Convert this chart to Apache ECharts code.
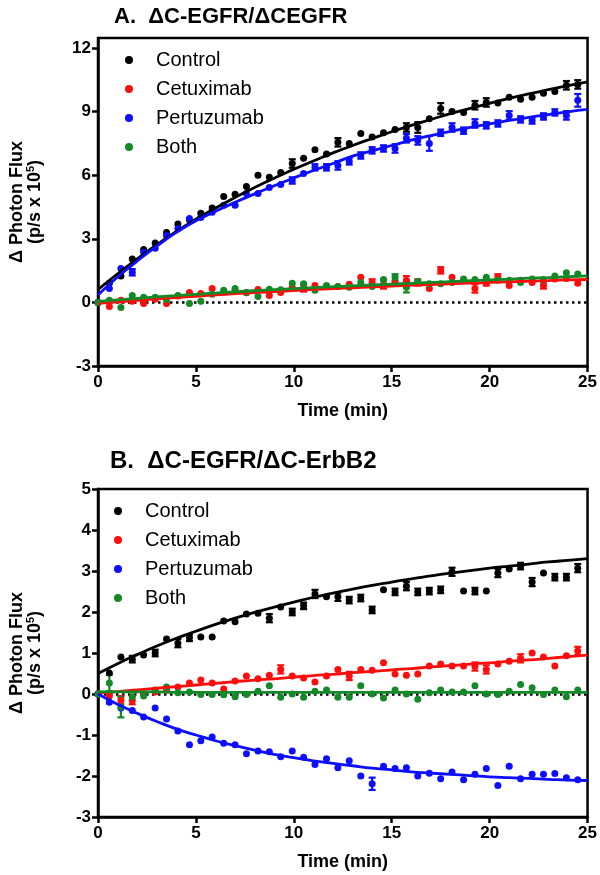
<!DOCTYPE html>
<html>
<head>
<meta charset="utf-8">
<script src="https://cdn.jsdelivr.net/npm/echarts@6/dist/echarts.min.js"></script>
<style>html,body{margin:0;padding:0;background:#fff}#c{width:600px;height:875px}</style>
</head>
<body>
<div id="c"></div>
<script>
// ---------- DATA ----------
const seriesNames = ['Control', 'Cetuximab', 'Pertuzumab', 'Both'];
const seriesColors = ['#000000', '#ff0d0d', '#0d0dff', '#138a27'];

const timeMin = [0, 0.58, 1.17, 1.75, 2.33, 2.92, 3.5, 4.08, 4.67, 5.25, 5.83, 6.42, 7, 7.58, 8.17, 8.75, 9.33, 9.92, 10.5, 11.08, 11.67, 12.25, 12.83, 13.42, 14, 14.58, 15.17, 15.75, 16.33, 16.92, 17.5, 18.08, 18.67, 19.25, 19.83, 20.42, 21, 21.58, 22.17, 22.75, 23.33, 23.92, 24.5];
const fitTime = [0,1,2,3,4,5,6,7,8,9,10,11,12,13,14,15,16,17,18,19,20,21,22,23,24,25];

const xTicks = [0, 5, 10, 15, 20, 25];
const yTicksA = [-3, 0, 3, 6, 9, 12];
const yTicksB = [-3, -2, -1, 0, 1, 2, 3, 4, 5];

// Panel A
const aControl = [0, 0.9, 1.25, 2.05, 2.5, 2.8, 3.3, 3.7, 3.9, 4.2, 4.45, 5.0, 5.1, 5.47, 6.0, 5.9, 6.13, 6.55, 6.8, 7.2, 7.0, 7.55, 7.5, 7.97, 7.8, 8.0, 8.15, 8.25, 8.25, 8.66, 9.15, 9.0, 8.96, 9.3, 9.43, 9.4, 9.67, 9.58, 9.67, 9.86, 9.95, 10.24, 10.28];
const aCetuximab = [0, -0.19, 0.1, 0.05, -0.05, 0.15, -0.05, 0.3, 0.47, 0.42, 0.66, 0.5, 0.55, 0.45, 0.61, 0.33, 0.47, 0.7, 0.66, 0.8, 0.75, 0.75, 0.85, 1.18, 0.94, 0.85, 0.95, 1.04, 0.94, 0.66, 1.51, 1.18, 1.05, 0.66, 0.9, 1.18, 0.8, 1.04, 0.94, 0.8, 1.1, 1.13, 0.9];
const aPertuzumab = [0, 0.66, 1.6, 1.42, 2.36, 2.55, 3.16, 3.49, 3.96, 4.0, 4.25, 4.58, 4.58, 5.14, 5.14, 5.42, 5.56, 5.75, 6.08, 6.37, 6.37, 6.46, 6.65, 6.93, 7.17, 7.26, 7.26, 7.74, 7.64, 7.5, 8.0, 8.25, 8.1, 8.44, 8.35, 8.44, 8.82, 8.63, 8.58, 8.77, 8.96, 8.82, 9.53];
const aBoth = [0, 0.1, -0.24, 0.33, 0.24, 0.24, 0.14, 0.33, -0.05, 0.05, 0.38, 0.57, 0.66, 0.47, 0.28, 0.62, 0.6, 0.9, 0.88, 0.57, 0.8, 0.75, 0.72, 0.94, 0.75, 1.08, 1.18, 0.72, 1.0, 0.88, 0.88, 0.94, 1.1, 1.08, 1.18, 1.04, 1.04, 0.94, 1.1, 1.08, 1.24, 1.4, 1.34];

const aControlErr = [0,0,0,0,0,0,0,0,0,0, 0,0,0,0,0,0,0,0.2,0,0, 0,0.2,0,0,0,0,0,0.2,0.25,0, 0.25,0,0,0.2,0.2,0,0,0,0,0, 0,0.2,0.2];
const aCetuximabErr = [0,0,0,0,0,0,0,0,0,0, 0,0,0,0,0,0,0,0,0.15,0, 0,0,0,0,0.15,0.2,0,0.2,0.15,0, 0.15,0,0,0.2,0.1,0.15,0,0,0,0.15, 0,0,0];
const aPertuzumabErr = [0,0,0,0.15,0,0,0,0,0,0, 0,0,0,0,0,0,0,0.15,0,0.15, 0.15,0.2,0.15,0.15,0.15,0.15,0.2,0.2,0.2,0.35, 0.15,0.2,0.15,0.2,0.15,0.15,0.2,0.15,0.15,0.15, 0.15,0.2,0.3];
const aBothErr = [0,0,0,0,0,0,0,0,0,0, 0,0,0,0,0,0,0,0,0,0, 0,0,0,0,0,0,0.15,0.25,0,0, 0,0,0,0,0,0,0,0,0,0, 0,0,0];

const aControlFit = [0.6, 1.35, 2.05, 2.72, 3.35, 3.92, 4.45, 4.95, 5.42, 5.86, 6.28, 6.67, 7.05, 7.4, 7.73, 8.05, 8.35, 8.63, 8.9, 9.15, 9.39, 9.62, 9.83, 10.03, 10.22, 10.4];
const aCetuximabFit = [-0.05, 0.03, 0.1, 0.17, 0.23, 0.29, 0.35, 0.41, 0.46, 0.51, 0.56, 0.61, 0.65, 0.69, 0.73, 0.77, 0.81, 0.84, 0.88, 0.91, 0.94, 0.97, 1.0, 1.03, 1.06, 1.08];
const aPertuzumabFit = [0.35, 1.2, 1.95, 2.65, 3.3, 3.85, 4.3, 4.72, 5.12, 5.5, 5.87, 6.22, 6.55, 6.9, 7.15, 7.4, 7.65, 7.87, 8.07, 8.25, 8.42, 8.58, 8.73, 8.86, 8.99, 9.1];
const aBothFit = [0.05, 0.12, 0.19, 0.26, 0.32, 0.38, 0.44, 0.5, 0.55, 0.6, 0.65, 0.7, 0.74, 0.78, 0.82, 0.86, 0.9, 0.94, 0.98, 1.02, 1.06, 1.1, 1.14, 1.17, 1.21, 1.25];

// Panel B
const bControl = [0, 0.51, 0.9, 0.85, 0.95, 1.0, 1.34, 1.24, 1.37, 1.39, 1.39, 1.78, 1.76, 1.95, 1.97, 1.85, 2.12, 2.0, 2.15, 2.44, 2.37, 2.37, 2.29, 2.34, 2.05, 2.54, 2.49, 2.63, 2.49, 2.51, 2.54, 2.98, 2.51, 2.51, 2.51, 2.95, 3.05, 3.12, 2.73, 2.95, 2.85, 2.85, 3.07];
const bCetuximab = [0, -0.05, -0.15, -0.15, 0.0, 0.05, 0.1, 0.17, 0.27, 0.34, 0.27, 0.12, 0.32, 0.44, 0.37, 0.46, 0.6, 0.44, 0.39, 0.29, 0.44, 0.6, 0.44, 0.6, 0.58, 0.76, 0.49, 0.46, 0.49, 0.68, 0.73, 0.68, 0.68, 0.67, 0.6, 0.73, 0.8, 0.87, 1.0, 0.9, 0.68, 0.93, 1.05];
const bPertuzumab = [0, -0.2, -0.34, -0.4, -0.56, -0.34, -0.61, -0.9, -1.24, -1.14, -1.05, -1.2, -1.24, -1.46, -1.39, -1.41, -1.53, -1.39, -1.54, -1.72, -1.58, -1.8, -1.63, -2.0, -2.19, -1.76, -1.82, -1.8, -2.0, -1.93, -2.07, -1.9, -2.09, -1.96, -1.82, -2.23, -1.76, -2.07, -1.96, -1.96, -1.94, -2.04, -2.09];
const bBoth = [0, 0.27, -0.32, -0.07, -0.05, 0.1, 0.17, 0.03, 0.05, -0.01, -0.01, -0.02, -0.07, -0.01, 0.07, 0.2, -0.08, 0.0, -0.08, 0.07, 0.1, -0.08, -0.08, 0.2, 0.0, -0.1, 0.1, 0.0, -0.13, 0.03, 0.1, 0.05, 0.05, 0.2, 0.0, -0.01, 0.07, 0.23, 0.15, -0.01, 0.1, -0.07, 0.1];

const bControlErr = [0,0,0,0.08,0,0.08,0,0.1,0.08,0, 0,0,0,0,0,0.1,0,0.08,0.08,0.1, 0,0.1,0.08,0.08,0.08,0,0.08,0.1,0.08,0.08, 0.08,0.1,0,0.08,0,0.1,0,0.08,0.1,0, 0.08,0.08,0.1];
const bCetuximabErr = [0,0,0.1,0.1,0,0,0,0,0,0, 0,0,0,0,0,0,0.1,0,0,0, 0,0,0.1,0,0,0,0,0,0,0, 0,0,0,0.1,0.1,0,0,0.1,0,0, 0,0,0.1];
const bPertuzumabErr = [0,0,0,0,0,0,0,0,0,0, 0,0,0,0,0,0,0,0,0,0, 0,0,0,0,0.15,0,0,0,0,0, 0,0,0,0,0,0,0,0,0,0, 0,0,0];
const bBothErr = [0,0.2,0.25,0,0,0,0,0,0,0, 0,0,0,0,0,0,0,0,0,0, 0,0,0,0,0,0,0,0,0,0, 0,0,0,0,0,0,0,0,0,0, 0,0,0];

const bControlFit = [0.5, 0.74, 0.96, 1.17, 1.36, 1.53, 1.7, 1.85, 1.99, 2.12, 2.24, 2.36, 2.46, 2.56, 2.65, 2.73, 2.81, 2.88, 2.95, 3.01, 3.07, 3.12, 3.17, 3.22, 3.26, 3.3];
const bCetuximabFit = [0.02, 0.06, 0.1, 0.14, 0.18, 0.22, 0.26, 0.3, 0.34, 0.37, 0.41, 0.45, 0.48, 0.52, 0.55, 0.59, 0.62, 0.66, 0.69, 0.73, 0.76, 0.8, 0.83, 0.87, 0.91, 0.95];
const bPertuzumabFit = [0, -0.25, -0.47, -0.67, -0.85, -1.0, -1.14, -1.26, -1.37, -1.47, -1.55, -1.63, -1.69, -1.75, -1.81, -1.85, -1.9, -1.93, -1.96, -1.99, -2.02, -2.04, -2.06, -2.08, -2.1, -2.11];
const bBothFit = [0.06, 0.05, 0.05, 0.05, 0.04, 0.04, 0.04, 0.04, 0.04, 0.04, 0.04, 0.04, 0.04, 0.04, 0.04, 0.04, 0.04, 0.04, 0.04, 0.04, 0.04, 0.04, 0.04, 0.04, 0.04, 0.04];

// ---------- CHART ----------
const FONT = '"Liberation Sans", Arial, Helvetica, sans-serif';
const chart = echarts.init(document.getElementById('c'), null, {renderer: 'canvas'});

function errRender(color) {
  return function (params, api) {
    const x = api.value(0), y = api.value(1), e = api.value(2);
    const hi = api.coord([x, y + e]);
    const lo = api.coord([x, y - e]);
    const w = 3.5;
    const st = {stroke: color, lineWidth: 2.2};
    return {type: 'group', children: [
      {type: 'line', shape: {x1: hi[0], y1: hi[1], x2: lo[0], y2: lo[1]}, style: st},
      {type: 'line', shape: {x1: hi[0] - w, y1: hi[1], x2: hi[0] + w, y2: hi[1]}, style: st},
      {type: 'line', shape: {x1: lo[0] - w, y1: lo[1], x2: lo[0] + w, y2: lo[1]}, style: st}
    ]};
  };
}

function panelSeries(p, groups) {
  const out = [];
  groups.forEach((g, gi) => {
    const color = seriesColors[gi];
    const name = seriesNames[gi];
    out.push({
      name: name, type: 'scatter', xAxisIndex: p, yAxisIndex: p,
      symbol: 'circle', symbolSize: 7, itemStyle: {color: color, opacity: 1},
      data: timeMin.map((t, i) => [t, g.vals[i]]), z: 3, clip: false
    });
    out.push({
      name: name + ' SEM', type: 'custom', xAxisIndex: p, yAxisIndex: p,
      renderItem: errRender(color), z: 3,
      data: timeMin.map((t, i) => [t, g.vals[i], g.err[i]]).filter(d => d[2] > 0)
    });
    const line = {
      name: name + ' fit', type: 'line', xAxisIndex: p, yAxisIndex: p,
      smooth: true, showSymbol: false, symbol: 'none',
      lineStyle: {color: color, width: 2.8}, z: 4,
      data: fitTime.map((t, i) => [t, g.fit[i]])
    };
    if (gi === 0) {
      line.markLine = {
        silent: true, symbol: 'none', label: {show: false}, z: 1,
        lineStyle: {color: '#000', width: 2.5, type: [2.5, 3.5]},
        data: [{yAxis: 0}]
      };
    }
    out.push(line);
  });
  return out;
}

const axisLineStyle = {color: '#000', width: 2.5};
function xAxisFor(p) {
  return {
    gridIndex: p, type: 'value', min: 0, max: 25, interval: 5,
    axisLine: {show: true, onZero: false, lineStyle: axisLineStyle},
    axisTick: {show: true, length: 6, lineStyle: axisLineStyle, customValues: xTicks},
    axisLabel: {color: '#000', fontWeight: 'bold', fontSize: 17, fontFamily: FONT, margin: 8, customValues: xTicks},
    splitLine: {show: false},
    name: 'Time (min)', nameLocation: 'middle', nameGap: 36,
    nameTextStyle: {color: '#000', fontWeight: 'bold', fontSize: 18, fontFamily: FONT}
  };
}
function yAxisFor(p, min, max, interval, ticks) {
  return {
    gridIndex: p, type: 'value', min: min, max: max, interval: interval,
    axisLine: {show: true, onZero: false, lineStyle: axisLineStyle},
    axisTick: {show: true, length: 6, lineStyle: axisLineStyle, customValues: ticks},
    axisLabel: {color: '#000', fontWeight: 'bold', fontSize: 17, fontFamily: FONT, margin: 7, customValues: ticks, showMaxLabel: true},
    splitLine: {show: false},
    name: '{a|Δ Photon Flux}\n{a|(p/s x 10}{s|5}{a|)}',
    nameLocation: 'middle', nameRotate: 90, nameGap: 54,
    nameTextStyle: {
      color: '#000', fontFamily: FONT,
      rich: {
        a: {fontSize: 18, fontWeight: 'bold', fontFamily: FONT, color: '#000', lineHeight: 18},
        s: {fontSize: 11, fontWeight: 'bold', fontFamily: FONT, color: '#000', lineHeight: 18, padding: [0, 0, 8, 0]}
      }
    }
  };
}

function legendFor(left, top) {
  return {
    left: left, top: top, orient: 'vertical', selectedMode: false, padding: 0,
    data: seriesNames, icon: 'circle', itemWidth: 8, itemHeight: 8, itemGap: 9,
    textStyle: {fontSize: 20, fontFamily: FONT, color: '#000', lineHeight: 20, padding: [0, 0, 0, 18]}
  };
}

const option = {
  animation: false,
  backgroundColor: '#fff',
  title: [
    {text: 'A.  ΔC-EGFR/ΔCEGFR', left: 114, top: 6, padding: 0,
     textStyle: {fontSize: 22, fontWeight: 'bold', fontFamily: FONT, color: '#000'}},
    {text: 'B.  ΔC-EGFR/ΔC-ErbB2', left: 110, top: 449, padding: 0,
     textStyle: {fontSize: 24, fontWeight: 'bold', fontFamily: FONT, color: '#000'}}
  ],
  legend: [legendFor(125, 50), legendFor(114, 501)],
  grid: [
    {left: 97, right: 12, top: 38, bottom: 509, show: true, borderColor: '#000', borderWidth: 2.5, backgroundColor: 'rgba(0,0,0,0)'},
    {left: 97, right: 12, top: 489, bottom: 58, show: true, borderColor: '#000', borderWidth: 2.5, backgroundColor: 'rgba(0,0,0,0)'}
  ],
  xAxis: [xAxisFor(0), xAxisFor(1)],
  yAxis: [yAxisFor(0, -3, 12.47, 3, yTicksA), yAxisFor(1, -3, 5, 1, yTicksB)],
  series: [].concat(
    panelSeries(0, [
      {vals: aControl, err: aControlErr, fit: aControlFit},
      {vals: aCetuximab, err: aCetuximabErr, fit: aCetuximabFit},
      {vals: aPertuzumab, err: aPertuzumabErr, fit: aPertuzumabFit},
      {vals: aBoth, err: aBothErr, fit: aBothFit}
    ]),
    panelSeries(1, [
      {vals: bControl, err: bControlErr, fit: bControlFit},
      {vals: bCetuximab, err: bCetuximabErr, fit: bCetuximabFit},
      {vals: bPertuzumab, err: bPertuzumabErr, fit: bPertuzumabFit},
      {vals: bBoth, err: bBothErr, fit: bBothFit}
    ])
  )
};
chart.setOption(option);
</script>
</body>
</html>
